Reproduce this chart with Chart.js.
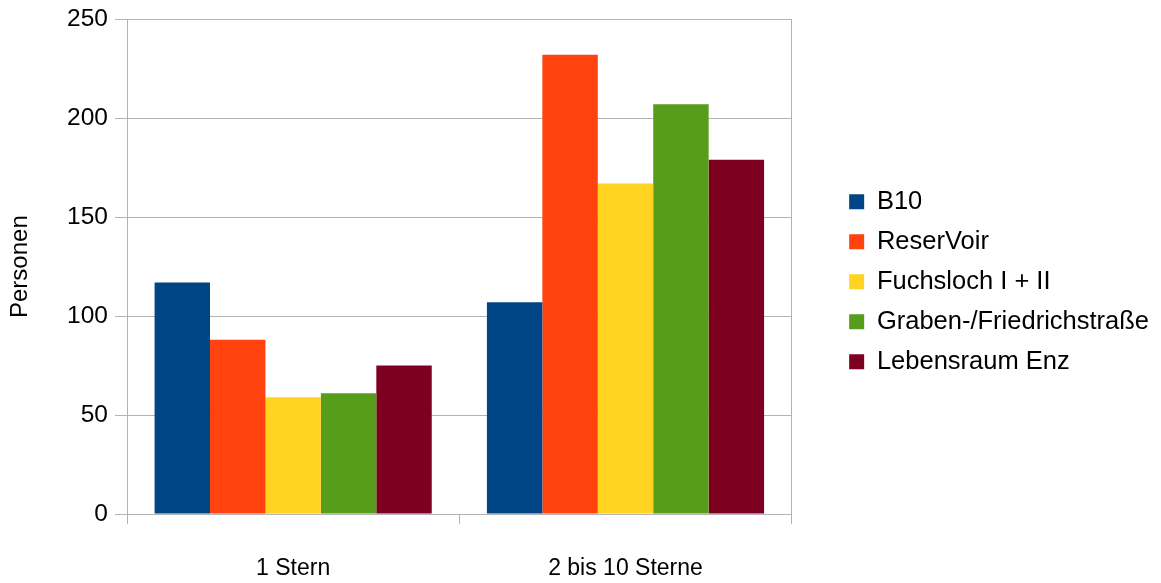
<!DOCTYPE html>
<html lang="de">
<head>
<meta charset="UTF-8">
<title>Personen</title>
<style>
    html, body { margin: 0; padding: 0; background: #fff; }
    #wrap { width: 1161px; height: 583px; }
</style>
</head>
<body>
<div id="wrap"><canvas id="chart" width="1161" height="583"></canvas></div>
<script src="https://cdn.jsdelivr.net/npm/chart.js"></script>
<script>
    // Daten
    const kategorien = ['1 Stern', '2 bis 10 Sterne'];
    const b10 = [117, 107];
    const reserVoir = [88, 232];
    const fuchsloch = [59, 167];
    const graben = [61, 207];
    const lebensraum = [75, 179];
    const yTicks = [0, 50, 100, 150, 200, 250];

    const grau = '#b3b3b3';
    Chart.defaults.font.family = '"Liberation Sans", Arial, sans-serif';
    Chart.defaults.color = '#000';

    function serie(label, data, farbe) {
        return { label: label, data: data, backgroundColor: farbe, borderWidth: 0, yAxisID: 'y' };
    }

    new Chart(document.getElementById('chart').getContext('2d'), {
        type: 'bar',
        data: {
            labels: kategorien,
            datasets: [
                serie('B10', b10, '#004586'),
                serie('ReserVoir', reserVoir, '#ff420e'),
                serie('Fuchsloch I + II', fuchsloch, '#ffd320'),
                serie('Graben-/Friedrichstraße', graben, '#579d1c'),
                serie('Lebensraum Enz', lebensraum, '#7e0021')
            ]
        },
        options: {
            responsive: false,
            animation: false,
            datasets: { bar: { categoryPercentage: 0.834, barPercentage: 1 } },
            layout: { padding: { left: 0, top: 0, right: 2, bottom: 0 } },
            plugins: {
                tooltip: { enabled: false },
                legend: {
                    position: 'right',
                    fullSize: false,
                    maxWidth: 340,
                    // leerer Titel schiebt die Einträge etwas nach unten
                    title: { display: true, text: ' ', font: { size: 25 }, padding: 0 },
                    labels: {
                        boxWidth: 15,
                        boxHeight: 15,
                        padding: 14.5,
                        font: { size: 25.5 }
                    }
                }
            },
            scales: {
                x: {
                    afterFit: (axis) => { axis.height = 69; },
                    grid: {
                        offset: true,
                        color: (c) => c.index === 1 ? 'rgba(0,0,0,0)' : grau,
                        tickColor: grau,
                        tickLength: 10
                    },
                    border: { color: grau },
                    ticks: { padding: 31, font: { size: 23 }, maxRotation: 0, minRotation: 0, autoSkip: false }
                },
                y: {
                    min: 0,
                    max: 250,
                    afterBuildTicks: (axis) => { axis.ticks = yTicks.map(v => ({ value: v })); },
                    afterFit: (axis) => { axis.width = 127; },
                    grid: { color: grau, tickLength: 12 },
                    border: { color: grau },
                    ticks: { padding: 7, font: { size: 24.5, lineHeight: 1 } },
                    title: { display: true, text: 'Personen', font: { size: 24 }, padding: { top: 6, bottom: 0 } }
                },
                // rechter Rahmen + Abstand zur Legende
                y2: {
                    type: 'linear',
                    position: 'right',
                    afterFit: (axis) => { axis.width = 43; },
                    grid: { drawOnChartArea: false, drawTicks: false },
                    border: { color: grau },
                    ticks: { display: false }
                }
            }
        }
    });
</script>
</body>
</html>
